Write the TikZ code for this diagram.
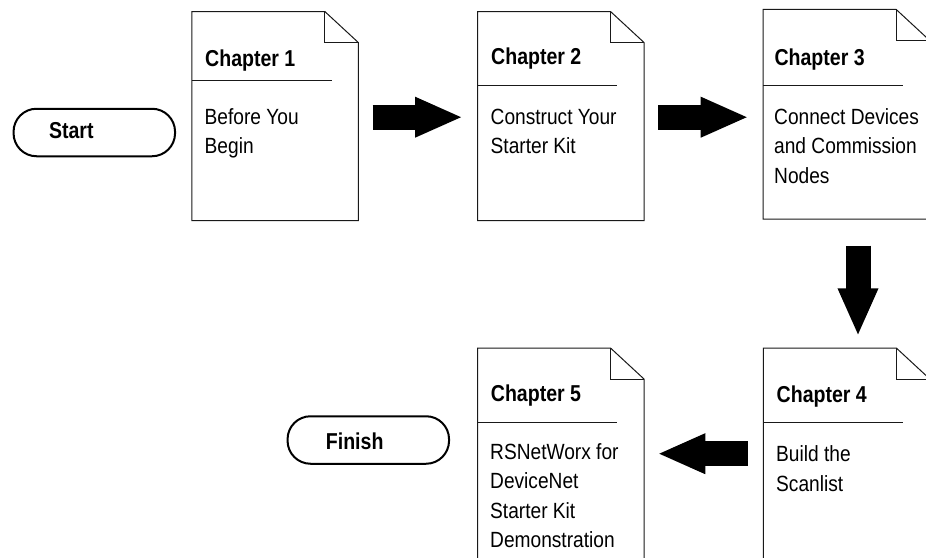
\documentclass[tikz,border=0pt]{standalone}
\usepackage{fontspec}
\setmainfont[FakeStretch=0.85]{Liberation Sans}
\newfontfamily\bodyfamily[FakeStretch=0.87]{Liberation Sans}
\usetikzlibrary{arrows.meta}
\newcommand{\chappage}[6]{% name, left, top, bottom, rule y, rule end x
  \pgfmathsetmacro{\rgt}{#2+166.5}
  \pgfmathsetmacro{\fx}{#2+133}
  \pgfmathsetmacro{\fy}{#3+31}
  \coordinate (#1w) at (#2,#5);
  \coordinate (#1e) at (#6,#5);
  \draw[pageline] (#2,#4) -- (#2,#3) -- (\fx,#3) -- (\rgt,\fy) -- (\rgt,#4) -- cycle;
  \draw[pageline] (\fx,#3) -- (\fx,\fy) -- (\rgt,\fy);
  \draw[ruleline] (#1w) -- (#1e);
}
\tikzset{
  pageline/.style={draw=black!90,line width=1pt,line join=miter},
  ruleline/.style={draw=black!90,line width=0.9pt},
  titletext/.style={anchor=base west,inner sep=0pt,font=\fontsize{23}{30}\selectfont\bfseries},
  bodytext/.style={anchor=north west,inner sep=0pt,align=left,font=\bodyfamily\fontsize{22}{29.5}\selectfont},
  pill/.style={draw=black,line width=2pt,rounded corners=23pt,minimum width=161.5pt,minimum height=47.5pt,inner sep=0pt},
  pilltext/.style={anchor=base,inner sep=0pt,font=\fontsize{23}{30}\selectfont\bfseries},
  blockarrow/.style={draw=black,line width=25pt,-{Triangle[length=48pt,width=37pt]},shorten >=-2pt},
}
\newcommand{\firstline}{\rule{0pt}{20pt}}
\begin{document}
\begin{tikzpicture}[x=1pt,y=-1pt]
\clip (0,0) rectangle (926,557);
\node[pill] (start) at (94.3,132.5) {};
\node[pilltext] (startt) at (71.3,138.3) {Start};
\node[pill] (finish) at (368.3,440) {};
\node[pilltext] (finisht) at (354.7,449.3) {Finish};
\chappage{c1}{191.8}{11.5}{220.7}{80}{331.7}
\node[titletext] (c1t) at (205,66) {Chapter 1};
\node[bodytext] (c1b) at (204.5,104) {\firstline Before You\\Begin};
\chappage{c2}{477.5}{11.5}{220.7}{85.3}{617}
\node[titletext] (c2t) at (491,64.5) {Chapter 2};
\node[bodytext] (c2b) at (490.5,104) {\firstline Construct Your\\Starter Kit};
\chappage{c3}{763}{9.3}{219}{85.7}{902.7}
\node[titletext] (c3t) at (774.3,65) {Chapter 3};
\node[bodytext] (c3b) at (774,104) {\firstline Connect Devices\\and Commission\\Nodes};
\chappage{c4}{763.3}{348}{600}{422}{902.7}
\node[titletext] (c4t) at (776.5,402.3) {Chapter 4};
\node[bodytext] (c4b) at (776,441.5) {\firstline Build the\\Scanlist};
\chappage{c5}{477.5}{348}{600}{422}{617}
\node[titletext] (c5t) at (490.7,401) {Chapter 5};
\node[bodytext] (c5b) at (490,439) {\firstline RSNetWorx for\\DeviceNet\\Starter Kit\\Demonstration};
\coordinate (a1s) at (372.7,117.2);
\coordinate (a1e) at (461,117.2);
\coordinate (a2s) at (658,117.2);
\coordinate (a2e) at (746.7,117.2);
\coordinate (a3s) at (858,245.7);
\coordinate (a3e) at (858,334.3);
\coordinate (a4s) at (747.7,453.7);
\coordinate (a4e) at (659.3,453.7);
\draw[blockarrow] (a1s) -- (a1e);
\draw[blockarrow] (a2s) -- (a2e);
\draw[blockarrow] (a3s) -- (a3e);
\draw[blockarrow] (a4s) -- (a4e);
\end{tikzpicture}
\end{document}
